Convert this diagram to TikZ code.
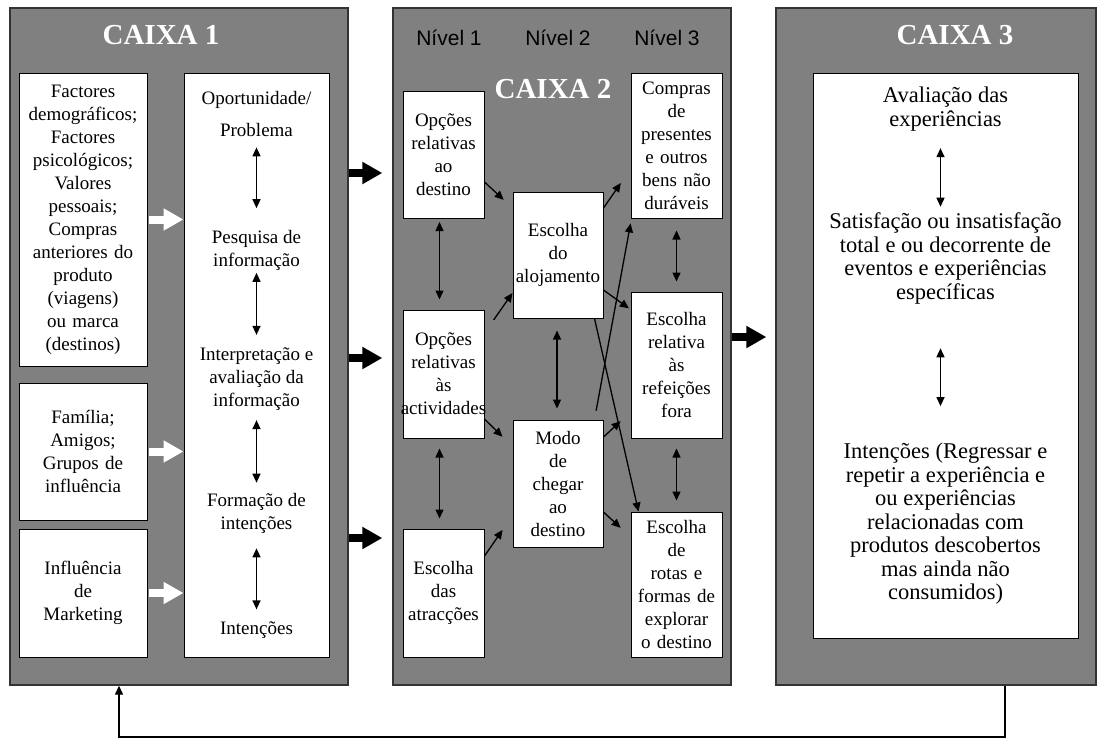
\documentclass[tikz,border=0pt]{standalone}
\usepackage{fontspec}
\setmainfont{Liberation Serif}
\newfontfamily\niveisfont{Liberation Sans}
\usetikzlibrary{arrows.meta}

\begin{document}
\begin{tikzpicture}[x=1pt,y=-1pt,line join=miter,
    caixa/.style={draw=black!80,line width=1.3pt,fill=black!50,inner sep=0pt},
    bloco/.style={draw=black,line width=1pt,fill=white,inner sep=0pt,align=center,
      font=\fontsize{19}{23}\selectfont},
    texto/.style={inner sep=0pt,align=center,font=\fontsize{19}{23}\selectfont},
    textogrande/.style={inner sep=0pt,align=center,font=\fontsize{22.5}{23.5}\selectfont},
    titulo/.style={inner sep=0pt,text=white,font=\fontsize{29}{30}\selectfont\bfseries},
    nivel/.style={inner sep=0pt,font=\niveisfont\fontsize{21}{22}\selectfont},
    seta/.style={line width=1.3pt,-{Triangle[length=9pt,width=8pt]}},
    setadupla/.style={line width=1.3pt,{Triangle[length=9pt,width=8pt]}-{Triangle[length=9pt,width=8pt]}},
    setalarga/.style={line width=8pt,-{Triangle[length=20pt,width=21pt]}}]
  \useasboundingbox (0,0) rectangle (1106,740);

  % Grey outer boxes
  \node[caixa,minimum width=338pt,minimum height=677pt] (caixa1) at (179,346.5) {};
  \node[caixa,minimum width=338pt,minimum height=677pt] (caixa2) at (562,346.5) {};
  \node[caixa,minimum width=320pt,minimum height=677pt] (caixa3) at (936,346.5) {};

  \node[titulo] (tit1) at (161,35) {CAIXA 1};
  \node[titulo] (tit2) at (553,89) {CAIXA 2};
  \node[titulo] (tit3) at (955,35) {CAIXA 3};

  \node[nivel] (nivel1) at (449,37.5) {Nível 1};
  \node[nivel] (nivel2) at (558,37.5) {Nível 2};
  \node[nivel] (nivel3) at (667,37.5) {Nível 3};

  % Caixa 1
  \node[bloco,text width=128pt,minimum height=293pt] (fatores) at (83,219.5)
    {Factores\\demográficos;\\Factores\\psicológicos;\\Valores\\pessoais;\\Compras\\anteriores do\\produto\\(viagens)\\ou marca\\(destinos)};
  \node[bloco,text width=128pt,minimum height=137pt] (familia) at (83,451.5)
    {Família;\\Amigos;\\Grupos de\\influência};
  \node[bloco,text width=128pt,minimum height=128pt] (marketing) at (83,593)
    {Influência\\de\\Marketing};
  \node[bloco,text width=145pt,minimum height=584pt] (decisao) at (256.5,365) {};

  \node[texto] (oport) at (256.5,114) {Oportunidade/\\[9pt]Problema};
  \node[texto] (pesq) at (256.5,250) {Pesquisa de\\informação};
  \node[texto] (interp) at (256.5,379) {Interpretação e\\avaliação da\\informação};
  \node[texto] (form) at (256.5,513.5) {Formação de\\intenções};
  \node[texto] (intenc) at (256.5,630) {Intenções};

  \draw[setadupla,shorten <=10.5pt,shorten >=21.5pt] (oport.south) -- (pesq.north);
  \draw[setadupla,shorten <=2.5pt,shorten >=12.5pt] (pesq.south) -- (interp.north);
  \draw[setadupla,shorten <=9.5pt,shorten >=10.5pt] (interp.south) -- (form.north);
  \draw[setadupla,shorten <=14.5pt,shorten >=12pt] (form.south) -- (intenc.north);

  % White arrows into the decision box
  \draw[setalarga,white,shorten <=1pt] (fatores.east) -- (fatores.east -| decisao.west);
  \draw[setalarga,white,shorten <=1pt] (familia.east) -- (familia.east -| decisao.west);
  \draw[setalarga,white,shorten <=1pt] (marketing.east) -- (marketing.east -| decisao.west);

  % Caixa 2
  \node[bloco,text width=81pt,minimum height=127pt] (n1a) at (443.5,154.5) {Opções\\relativas\\ao\\destino};
  \node[bloco,text width=81pt,minimum height=128pt] (n1b) at (443.5,374) {Opções\\relativas\\às\\\makebox[81pt]{actividades}};
  \node[bloco,text width=81pt,minimum height=128pt] (n1c) at (443.5,593) {Escolha\\das\\atracções};
  \node[bloco,text width=90pt,minimum height=126pt] (n2a) at (558,255) {Escolha\\do\\alojamento};
  \node[bloco,text width=90pt,minimum height=127pt] (n2b) at (558,483.5) {Modo\\de\\chegar\\ao\\destino};
  \node[bloco,text width=91pt,minimum height=145pt] (n3a) at (676.5,145.5) {Compras\\de\\presentes\\e outros\\bens não\\duráveis};
  \node[bloco,text width=91pt,minimum height=146pt] (n3b) at (676.5,365) {Escolha\\relativa\\às\\refeições\\fora};
  \node[bloco,text width=91pt,minimum height=145pt] (n3c) at (676.5,584.5) {Escolha\\de\\rotas e\\formas de\\explorar\\o destino};

  \draw[setadupla,shorten <=3.5pt,shorten >=10pt] ([xshift=-4pt]n1a.south) -- ([xshift=-4pt]n1b.north);
  \draw[setadupla,shorten <=10pt,shorten >=10pt] ([xshift=-4pt]n1b.south) -- ([xshift=-4pt]n1c.north);
  \draw[setadupla,shorten <=12pt,shorten >=11pt] ([xshift=-1pt]n2a.south) -- ([xshift=-1pt]n2b.north);
  \draw[setadupla,shorten <=12pt,shorten >=10pt] (n3a.south) -- (n3b.north);
  \draw[setadupla,shorten <=10pt,shorten >=11pt] (n3b.south) -- (n3c.north);

  \draw[seta,shorten >=12pt] (n1a.east |- 0,182) -- (n2a.west |- 0,208);
  \draw[seta,shorten <=16pt] (n1b.east |- 0,333) -- (n2a.west |- 0,293);
  \draw[seta,shorten >=14pt] (n1b.east |- 0,419) -- (n2b.west |- 0,446.5);
  \draw[seta,shorten >=17.5pt] (n1c.east |- 0,556) -- (n2b.west |- 0,515.5);
  \draw[seta,shorten >=17pt] (n2a.east |- 0,208) -- (n3a.west |- 0,169);
  \draw[seta,shorten >=2pt] (n2a.east |- 0,290) -- (n3b.west |- 0,309.5);
  \draw[seta,shorten >=13.5pt] (n2b.east |- 0,437) -- (n3b.west |- 0,412);
  \draw[seta,shorten >=13.5pt] (n2b.east |- 0,512) -- (n3c.west |- 0,537);
  \draw[seta] ([xshift=-9pt]n2a.south east) -- ([xshift=8pt]n3c.north west);
  \draw[seta,shorten <=9pt,shorten >=5pt] ([xshift=-9pt]n2b.north east) -- ([xshift=1pt]n3a.south west);

  % Caixa 3
  \node[bloco,text width=265pt,minimum height=565pt] (avalia) at (945.5,355.5) {};
  \node[textogrande] (aval) at (945.5,109) {Avaliação das\\experiências};
  \node[textogrande] (satis) at (945.5,258.5) {Satisfação ou insatisfação\\total e ou decorrente de\\eventos e experiências\\específicas};
  \node[textogrande] (intencoes) at (945.5,524) {Intenções (Regressar e\\repetir a experiência e\\ou experiências\\relacionadas com\\produtos descobertos\\mas ainda não\\consumidos)};

  \draw[setadupla,shorten <=17pt,shorten >=6pt] ([xshift=-5pt]aval.south) -- ([xshift=-5pt]satis.north);
  \draw[setadupla,shorten <=44pt,shorten >=37pt] ([xshift=-5pt]satis.south) -- ([xshift=-5pt]intencoes.north);

  % Black arrows between the boxes
  \draw[setalarga,shorten >=10pt] (caixa1.east |- 0,173) -- (caixa2.west |- 0,173);
  \draw[setalarga,shorten >=10pt] (caixa1.east |- 0,358) -- (caixa2.west |- 0,358);
  \draw[setalarga,shorten >=10pt] (caixa1.east |- 0,538) -- (caixa2.west |- 0,538);
  \draw[setalarga,shorten >=9pt] (caixa2.east |- 0,337) -- (caixa3.west |- 0,337);

  % Feedback line
  \coordinate (volta1) at (1005,737);
  \coordinate (volta2) at (119,737);
  \draw[seta,line width=1.2pt] (caixa3.south -| volta1) -- (volta1) -- (volta2) -- (caixa1.south -| volta2);
\end{tikzpicture}
\end{document}
